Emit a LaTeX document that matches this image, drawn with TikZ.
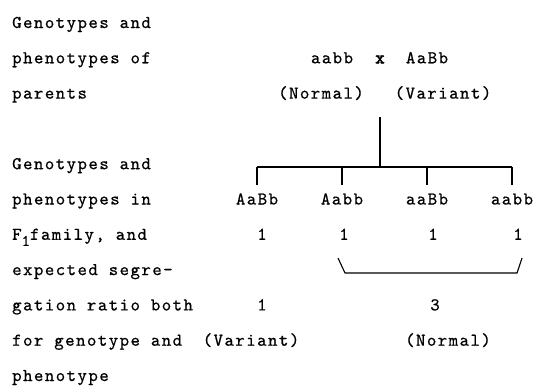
\documentclass[tikz,border=0pt]{standalone}
\usepackage{fontspec}
\newfontfamily\twfont{lmmono10-regular.otf}[LetterSpace=8,FakeBold=0.6]
\newfontfamily\twbold{lmmono10-regular.otf}[LetterSpace=8,FakeBold=3]
\begin{document}
\begin{tikzpicture}[x=1pt,y=-1pt,
  tw/.style={font=\twfont\fontsize{18}{18}\selectfont, inner sep=0pt, anchor=base},
  lefttxt/.style={tw, anchor=base west},
  conn/.style={line width=1.3pt}]
\useasboundingbox (0,0) rectangle (535,386);
% left column
\node[lefttxt] (l1) at (12,28) {Genotypes and};
\node[lefttxt] (l2) at (12,63.3) {phenotypes of};
\node[lefttxt] (l3) at (12,98.6) {parents};
\node[lefttxt] (l5) at (12,169.2) {Genotypes and};
\node[lefttxt] (l6) at (12,204.5) {phenotypes in};
\node[lefttxt] (l7) at (12,239.8) {F{\fontsize{16}{16}\selectfont\raisebox{-6pt}{1}}family, and};
\node[lefttxt] (l8) at (12,275.1) {expected segre-};
\node[lefttxt] (l9) at (12,310.4) {gation ratio both};
\node[lefttxt] (l10) at (12,345.7) {for genotype and};
\node[lefttxt] (l11) at (12,381) {phenotype};
% parents
\node[tw] (p1) at (332,63.3) {aabb};
\node[tw] (cross) at (380,63.3) {{\twbold x}};
\node[tw] (p2) at (427,63.3) {AaBb};
\node[tw] (pn1) at (321,98.6) {(Normal)};
\node[tw] (pn2) at (443,98.6) {(Variant)};
% offspring
\node[tw] (g1) at (257,204.5) {AaBb};
\node[tw] (g2) at (342,204.5) {Aabb};
\node[tw] (g3) at (427,204.5) {aaBb};
\node[tw] (g4) at (512,204.5) {aabb};
\node[tw] (r1) at (262,239.8) {1};
\node[tw] (r2) at (344,239.8) {1};
\node[tw] (r3) at (433,239.8) {1};
\node[tw] (r4) at (518,239.8) {1};
\node[tw] (s1) at (262,310.4) {1};
\node[tw] (s2) at (435,310.4) {3};
\node[tw] (ph1) at (251,345.7) {(Variant)};
\node[tw] (ph2) at (448,345.7) {(Normal)};
% connectors
\coordinate (top) at (380,117);
\coordinate (mid) at (380,167);
\coordinate (tickend) at (380,185);
\draw[conn] (top) -- (mid);
\draw[conn] (g1.north |- mid) -- (g4.north |- mid);
\foreach \g in {g1,g2,g3,g4} \draw[conn] (\g.north |- mid) -- (\g.north |- tickend);
% bracket
\coordinate (b1) at (338,258);
\coordinate (b2) at (345,273);
\coordinate (b3) at (517,273);
\coordinate (b4) at (522,258);
\draw[conn, line width=1.1pt] (b1) -- (b2) -- (b3) -- (b4);
\end{tikzpicture}
\end{document}
